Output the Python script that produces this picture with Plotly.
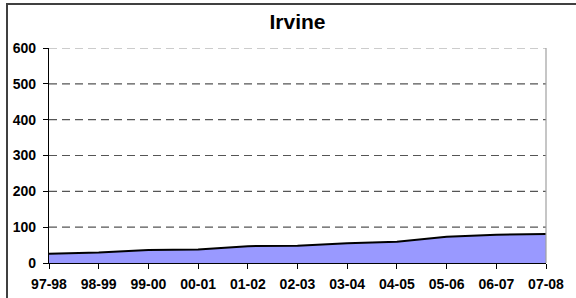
import plotly.graph_objects as go

categories = ["97-98", "98-99", "99-00", "00-01", "01-02", "02-03", "03-04", "04-05", "05-06", "06-07", "07-08"]
values = [26, 29, 36, 38, 47, 48, 55, 59, 73, 79, 81]
y_ticks = [0, 100, 200, 300, 400, 500, 600]

x_idx = list(range(len(categories)))
FONT = "Liberation Sans, Arial, sans-serif"

fig = go.Figure()
fig.add_trace(go.Scatter(
    x=x_idx, y=values, mode="lines", fill="tozeroy",
    fillcolor="#9999FF", line=dict(color="black", width=2),
    hoverinfo="skip", showlegend=False,
))

# dashed gridlines drawn as shapes
for v in y_ticks[1:]:
    fig.add_shape(type="line", xref="paper", yref="y", x0=0, x1=1, y0=v, y1=v,
                  line=dict(color="#555555" if v < 600 else "#999999", width=1.2, dash="8px,5px"), layer="below")

# right plot border
fig.add_shape(type="line", xref="paper", yref="paper", x0=1, x1=1, y0=0, y1=1,
              line=dict(color="#A0A0A0", width=1.2))
# outer chart border (left and top only visible)
fig.add_shape(type="rect", xref="paper", yref="paper", x0=-0.0845, x1=1.1, y0=-0.2, y1=1.2047,
              line=dict(color="#404040", width=2), fillcolor="rgba(0,0,0,0)")

fig.update_layout(
    width=576, height=298,
    margin=dict(l=49, r=30, t=48, b=35, autoexpand=False),
    paper_bgcolor="white", plot_bgcolor="white",
    title=dict(text="<b>Irvine</b>", x=0.5, xref="paper", xanchor="center",
               y=1 - 22 / 298, yref="container", yanchor="middle",
               font=dict(family=FONT, size=21, color="black")),
    xaxis=dict(range=[0, 10], tickvals=x_idx, ticktext=[f"<b>{c}</b>" for c in categories],
               showgrid=False, zeroline=False, showline=True, linecolor="black", linewidth=1.2,
               ticks="outside", ticklen=5, tickcolor="black", tickwidth=1, automargin=False,
               ticklabelstandoff=3,
               tickfont=dict(family=FONT, size=14, color="black")),
    yaxis=dict(range=[0, 600], tickvals=y_ticks, ticktext=[f"<b>{v}</b>" for v in y_ticks],
               showgrid=False, zeroline=False, showline=True, linecolor="black", linewidth=1.2,
               ticks="outside", ticklen=5, tickcolor="black", tickwidth=1, automargin=False,
               ticklabelstandoff=4,
               tickfont=dict(family=FONT, size=14, color="black")),
)

fig.write_html("out.html", config={"displayModeBar": False},
               post_script="document.body.style.margin='0';document.body.style.overflow='hidden';")
